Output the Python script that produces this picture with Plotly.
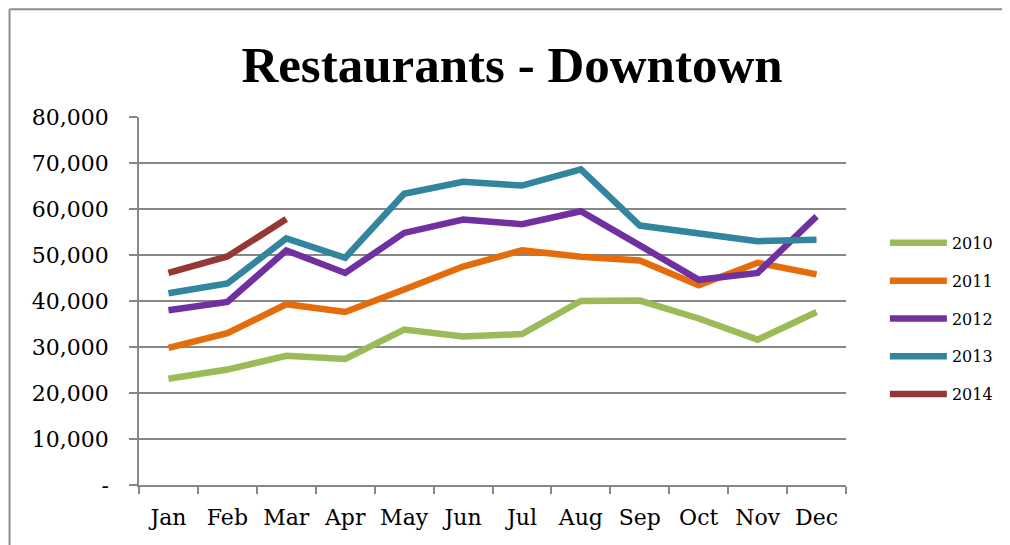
import plotly.graph_objects as go

months = ["Jan", "Feb", "Mar", "Apr", "May", "Jun", "Jul", "Aug", "Sep", "Oct", "Nov", "Dec"]

sales_2010 = [23100, 25100, 28100, 27400, 33800, 32300, 32800, 40000, 40100, 36200, 31600, 37600]
sales_2011 = [29800, 33000, 39300, 37600, 42500, 47500, 51000, 49600, 48800, 43400, 48300, 45800]
sales_2012 = [38000, 39800, 51000, 46100, 54800, 57700, 56700, 59500, 52100, 44600, 46100, 58400]
sales_2013 = [41700, 43800, 53600, 49400, 63300, 65900, 65100, 68600, 56400, 54800, 53000, 53300]
sales_2014 = [46100, 49700, 57800]

y_ticks = [0, 10000, 20000, 30000, 40000, 50000, 60000, 70000, 80000]
y_tick_text = ["-", "10,000", "20,000", "30,000", "40,000", "50,000", "60,000", "70,000", "80,000"]

series = [
    ("2010", sales_2010, "#9BBB59"),
    ("2011", sales_2011, "#E46C0A"),
    ("2012", sales_2012, "#7030A0"),
    ("2013", sales_2013, "#31859C"),
    ("2014", sales_2014, "#953735"),
]

grid_grey = "#878787"

fig = go.Figure()
for name, vals, col in series:
    fig.add_trace(go.Scatter(
        x=months[:len(vals)], y=vals, name=name, mode="lines",
        legendgroup=name,
        line=dict(color=col, width=6.5),
    ))

# page body has an 8px margin, so the figure is sized/offset to compensate
fig.update_layout(
    width=1002, height=537,
    margin=dict(l=131, r=161, t=109, b=60),
    paper_bgcolor="white", plot_bgcolor="white",
    font=dict(family="DejaVu Serif", color="black"),
    title=dict(text="<b>Restaurants - Downtown</b>", x=0.503, xanchor="center",
               y=0.895, yanchor="middle",
               font=dict(family="Liberation Serif", size=51, color="black")),
    showlegend=True,
    legend=dict(x=1.055, y=0.704, xanchor="left", yanchor="top",
                font=dict(size=16, family="DejaVu Serif"),
                itemwidth=57, tracegroupgap=14, bgcolor="rgba(0,0,0,0)"),
    xaxis=dict(
        categoryorder="array", categoryarray=months,
        tickson="boundaries", ticks="outside", ticklen=7, tickcolor=grid_grey, tickwidth=1.5,
        showline=True, linecolor=grid_grey, linewidth=1.5, showgrid=False,
        tickfont=dict(size=22), range=[-0.5, 11.5], ticklabelstandoff=12,
    ),
    yaxis=dict(
        range=[0, 80000], tickvals=y_ticks, ticktext=y_tick_text,
        ticks="outside", ticklen=8, tickcolor=grid_grey, tickwidth=1.5,
        showline=True, linecolor=grid_grey, linewidth=1.5,
        showgrid=True, gridcolor=grid_grey, gridwidth=1.5, zeroline=False,
        tickfont=dict(size=22), ticklabelstandoff=16,
    ),
)

# chart frame (top and left edges visible in the reference)
fig.add_shape(type="line", xref="paper", yref="paper", x0=-0.1831, x1=1.25, y0=1.2927, y1=1.2927,
              line=dict(color="#8c8c8c", width=2))
fig.add_shape(type="line", xref="paper", yref="paper", x0=-0.1831, x1=-0.1831, y0=1.2927, y1=-0.2,
              line=dict(color="#8c8c8c", width=2))

fig.write_html("out.html")
